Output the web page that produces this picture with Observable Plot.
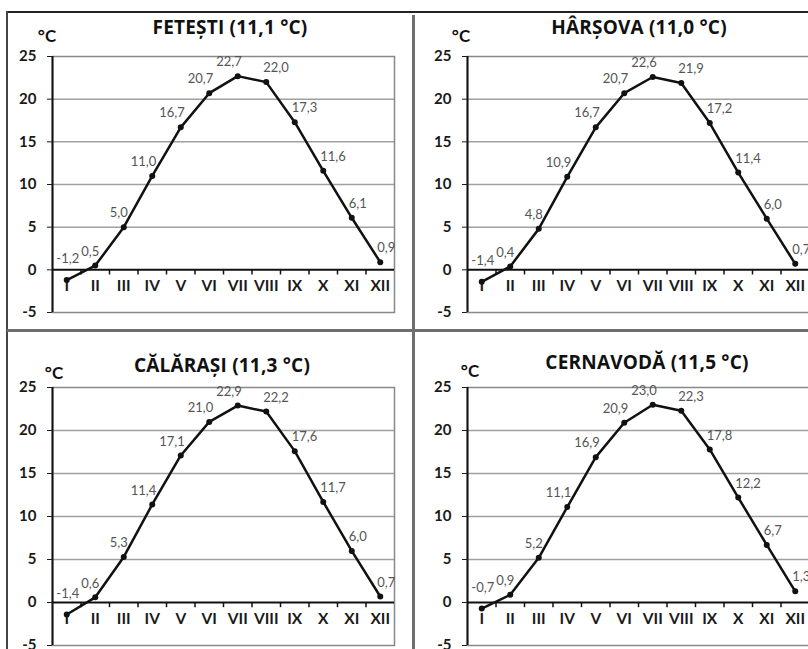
<!DOCTYPE html>
<html><head><meta charset="utf-8">
<script src="https://cdn.jsdelivr.net/npm/d3@7"></script>
<script src="https://cdn.jsdelivr.net/npm/@observablehq/plot@0.6"></script>
<style>
body{margin:0;background:#fff;}
#fig{position:relative;width:808px;height:649px;overflow:hidden;background:#fff;font-family:Lato,"Open Sans",sans-serif;}
.panel{position:absolute;}
.panel svg{overflow:visible;}
.title{position:absolute;font-family:"Open Sans",Lato,sans-serif;font-weight:bold;font-size:19px;letter-spacing:0.2px;color:#111;transform:translate(-50%,-50%);white-space:nowrap;}
.unit{position:absolute;font-weight:bold;font-size:17px;color:#111;transform:translate(-50%,-50%);white-space:nowrap;}
.ln{position:absolute;}
</style>
</head><body>
<div id="fig"></div>
<script>
// ---- data ----
const months = ["I","II","III","IV","V","VI","VII","VIII","IX","X","XI","XII"];
const stations = ["FETEȘTI","HÂRȘOVA","CĂLĂRAȘI","CERNAVODĂ"];
const annualMeans = [11.1, 11.0, 11.3, 11.5];
const fetesti   = [-1.2, 0.5, 5.0, 11.0, 16.7, 20.7, 22.7, 22.0, 17.3, 11.6, 6.1, 0.9];
const harsova   = [-1.4, 0.4, 4.8, 10.9, 16.7, 20.7, 22.6, 21.9, 17.2, 11.4, 6.0, 0.7];
const calarasi  = [-1.4, 0.6, 5.3, 11.4, 17.1, 21.0, 22.9, 22.2, 17.6, 11.7, 6.0, 0.7];
const cernavoda = [-0.7, 0.9, 5.2, 11.1, 16.9, 20.9, 23.0, 22.3, 17.8, 12.2, 6.7, 1.3];
const yTicks = [-5, 0, 5, 10, 15, 20, 25];
const series = [fetesti, harsova, calarasi, cernavoda];

// ---- layout (styling only) ----
const layout = [
  {left:0,   top:0,   ml:52, mt:56, mb:8, tx:230, ty:27,  ux:47,  uy:35},
  {left:414, top:0,   ml:53, mt:56, mb:8, tx:225, ty:27,  ux:47,  uy:35},
  {left:0,   top:330, ml:52, mt:57, mb:5, tx:222, ty:35,  ux:54,  uy:42},
  {left:414, top:330, ml:53, mt:57, mb:5, tx:233, ty:32,  ux:56,  uy:40}
];

const fmt = v => v.toFixed(1).replace(".", ",");
const fig = document.getElementById("fig");

series.forEach((vals, k) => {
  const L = layout[k];
  const data = vals.map((v, i) => ({m: i + 1, v}));
  const W = 410, H = 320;
  const lab = {x: "m", y: "v", text: d => fmt(d.v), fill: "#555", fontWeight: "normal", fontSize: 13};
  const chart = Plot.plot({
    width: W, height: H,
    marginLeft: L.ml, marginRight: W - L.ml - 342, marginTop: L.mt, marginBottom: L.mb,
    x: {domain: [0.5, 12.5], axis: null},
    y: {domain: [-5, 25], ticks: yTicks, tickSize: 5, tickPadding: 11, label: null, tickFormat: d => String(d)},
    style: {fontFamily: "Lato, 'Open Sans', sans-serif", fontSize: "15px", fontWeight: "bold", color: "#1a1a1a", background: "transparent", overflow: "visible"},
    marks: [
      Plot.ruleY(yTicks.filter(t => t > 0 && t < 25), {stroke: "#a0a0a0", strokeWidth: 1.5}),
      Plot.frame({stroke: "#888", strokeWidth: 1.5}),
      Plot.ruleY([0], {stroke: "#111", strokeWidth: 2}),
      Plot.ruleX([0.5], {stroke: "#111", strokeWidth: 2}),
      Plot.ruleX(d3.range(1.5, 12, 1), {y1: () => 0, y2: () => -0.6, stroke: "#111", strokeWidth: 1.5}),
      Plot.text(months, {x: (d, i) => i + 1, y: () => -1.9, text: d => d, fontSize: 15.5, fontWeight: "bold", fill: "#1a1a1a"}),
      Plot.line(data, {x: "m", y: "v", stroke: "#111", strokeWidth: 2.5}),
      Plot.dot(data, {x: "m", y: "v", r: 3, fill: "#111"}),
      Plot.text(data.filter(d => d.m === 1), {...lab, textAnchor: "middle", dx: 1, dy: -21}),
      Plot.text(data.filter(d => d.m > 1 && d.m <= 7), {...lab, textAnchor: "end", dx: 4, dy: -14}),
      Plot.text(data.filter(d => d.m > 7), {...lab, textAnchor: "start", dx: -3, dy: -14})
    ]
  });
  const wrap = document.createElement("div");
  wrap.className = "panel";
  wrap.style.left = L.left + "px";
  wrap.style.top = L.top + "px";
  wrap.style.width = W + "px";
  wrap.style.height = H + "px";
  wrap.appendChild(chart);
  const t = document.createElement("div");
  t.className = "title";
  t.style.left = L.tx + "px"; t.style.top = L.ty + "px";
  t.textContent = `${stations[k]} (${fmt(annualMeans[k])} °C)`;
  wrap.appendChild(t);
  const u = document.createElement("div");
  u.className = "unit";
  u.style.left = L.ux + "px"; u.style.top = L.uy + "px";
  u.textContent = "°C";
  wrap.appendChild(u);
  fig.appendChild(wrap);
});

// frame / divider lines
function line(x, y, w, h, c) {
  const d = document.createElement("div");
  d.className = "ln";
  Object.assign(d.style, {left: x + "px", top: y + "px", width: w + "px", height: h + "px", background: c});
  fig.appendChild(d);
}
line(7, 11, 801, 2, "#222");
line(6, 11, 2, 638, "#444");
line(412, 15, 2.5, 634, "#6e6e6e");
line(7, 329, 801, 2.5, "#6e6e6e");
</script>
</body></html>
